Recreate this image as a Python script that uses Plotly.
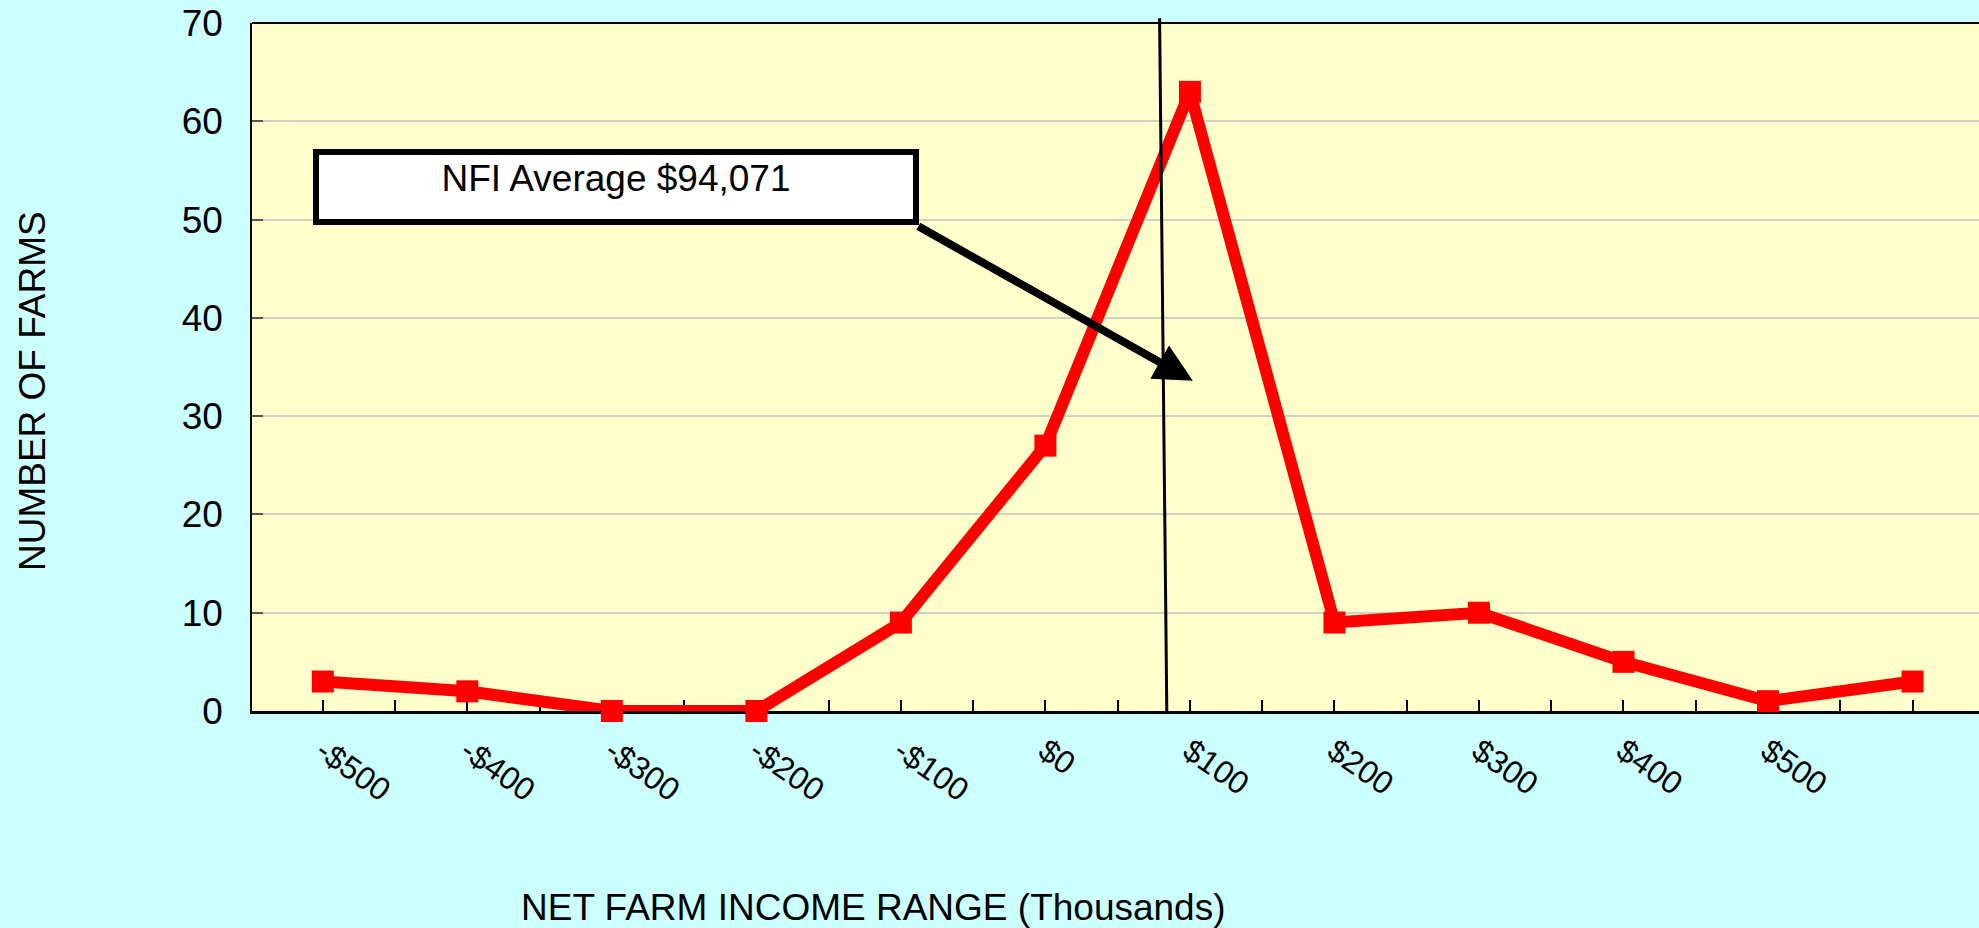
import plotly.graph_objects as go

# ---- data ----
income_ranges = ["-$500", "-$400", "-$300", "-$200", "-$100", "$0",
                 "$100", "$200", "$300", "$400", "$500", ""]
num_farms = [3, 2, 0, 0, 9, 27, 63, 9, 10, 5, 1, 3]
y_ticks = [0, 10, 20, 30, 40, 50, 60, 70]

avg_label = "NFI Average $94,071"
avg_line_x = (5.79, 5.84)          # hand-drawn average marker line (top, bottom)
arrow_tail = (4.11, 49.4)
arrow_head = (6.02, 33.6)
box_center = (2.03, 53.3)

FONT = "Liberation Sans, Arial, sans-serif"

pos = list(range(len(income_ranges)))
tickvals, ticktext = [], []
for i, lab in enumerate(income_ranges):
    tickvals += [i - 0.5, i]
    ticktext += ["", lab]

fig = go.Figure()
fig.add_trace(go.Scatter(
    x=pos, y=num_farms, mode="lines+markers",
    line=dict(color="#FF0000", width=12),
    marker=dict(symbol="square", size=22, color="#FF0000"),
    cliponaxis=False, showlegend=False,
))

fig.update_layout(
    width=1979, height=928,
    paper_bgcolor="#CCFFFF", plot_bgcolor="#FFFFCC",
    margin=dict(l=252, r=0, t=23, b=217),
    font=dict(family=FONT, color="black", size=36),
    xaxis=dict(
        range=[-0.49, 11.46], tickvals=tickvals, ticktext=ticktext,
        tickangle=35, tickfont=dict(size=32), ticks="inside", ticklen=11,
        tickwidth=2, tickcolor="black", showgrid=False, zeroline=False,
        showline=True, linecolor="black", linewidth=3,
        ticklabelstandoff=6, layer="below traces",
    ),
    yaxis=dict(
        range=[0, 70], tickvals=y_ticks, tickfont=dict(size=37),
        ticks="inside", ticklen=11, tickcolor="#555555", tickwidth=2,
        showgrid=True, gridcolor="#D0D0C4", gridwidth=2, zeroline=False,
        showline=True, linecolor="black", linewidth=1.5,
        ticklabelstandoff=20, layer="below traces",
    ),
    shapes=[
        dict(type="line", xref="paper", yref="paper", x0=0, x1=1, y0=1, y1=1,
             line=dict(color="black", width=2)),
        dict(type="line", xref="x", yref="paper", x0=avg_line_x[0], x1=avg_line_x[1],
             y0=1.007, y1=0, line=dict(color="black", width=3)),
    ],
    annotations=[
        dict(text="NUMBER OF FARMS", xref="paper", yref="paper", x=-0.1274, y=0.465,
             textangle=-90, showarrow=False, font=dict(size=37),
             xanchor="center", yanchor="middle"),
        dict(text="NET FARM INCOME RANGE (Thousands)", xref="paper", yref="paper",
             x=0.3596, y=-0.2863, showarrow=False, font=dict(size=37),
             xanchor="center", yanchor="middle"),
        dict(text="", xref="x", yref="y", axref="x", ayref="y",
             x=arrow_head[0], y=arrow_head[1], ax=arrow_tail[0], ay=arrow_tail[1],
             showarrow=True, arrowhead=2, arrowsize=0.95, arrowwidth=8,
             arrowcolor="black"),
        dict(text=avg_label, xref="x", yref="y", x=box_center[0], y=box_center[1],
             showarrow=False, bgcolor="white", bordercolor="black", borderwidth=6,
             borderpad=3, width=588, height=58, valign="top", align="center",
             font=dict(size=37)),
    ],
)

fig.write_html("out.html", config={"displayModeBar": False},
               post_script="document.body.style.margin='0';document.body.style.overflow='hidden';")
